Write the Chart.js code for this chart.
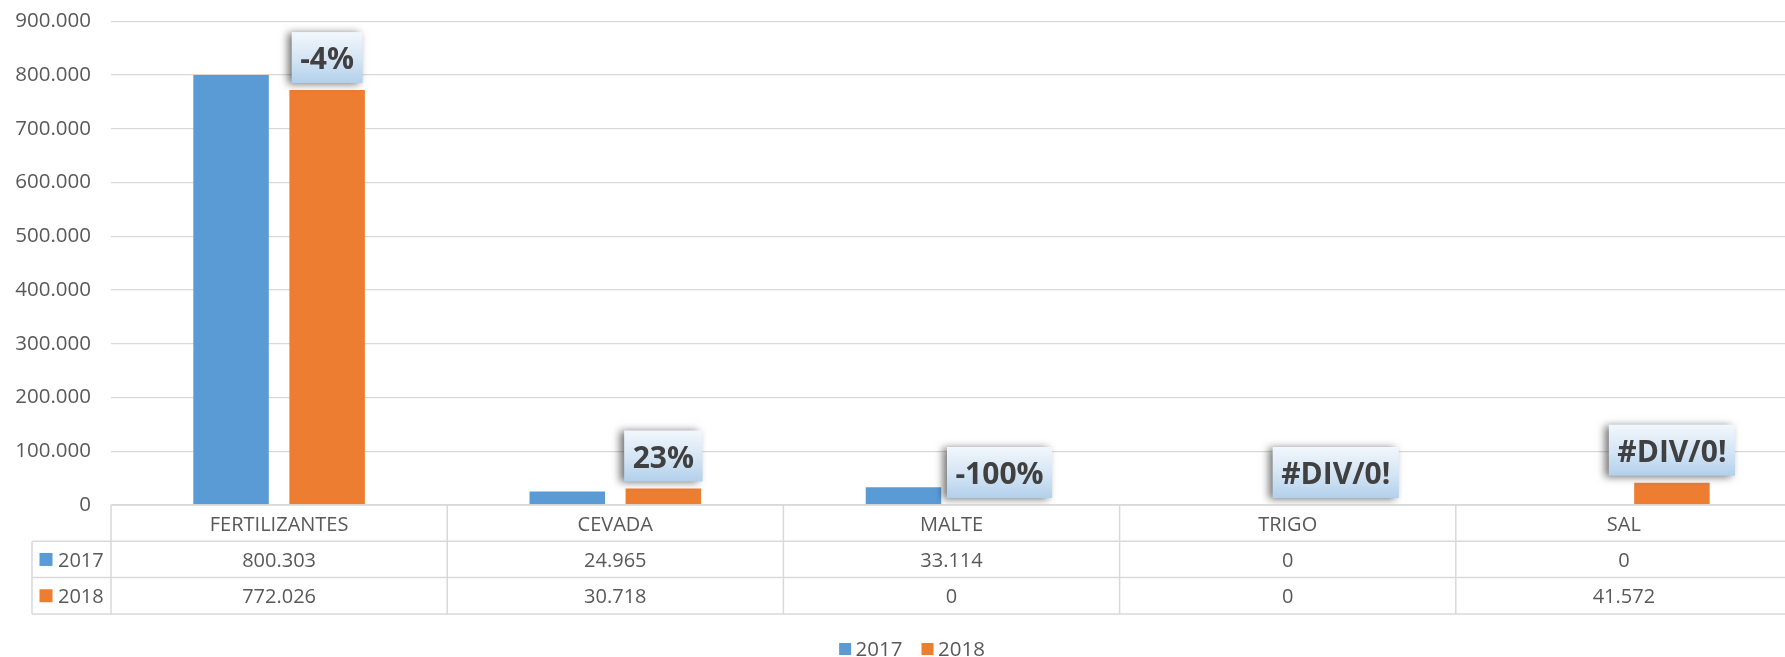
<!DOCTYPE html>
<html><head><meta charset="utf-8">
<script src="https://cdn.jsdelivr.net/npm/chart.js@4.4.1/dist/chart.umd.min.js"></script>
<style>html,body{margin:0;padding:0;background:#fff;overflow:hidden}#wrap{width:1785px;height:657px;position:relative;overflow:hidden}canvas{display:block}</style>
</head><body><div id="wrap"><canvas id="c" width="1792" height="657"></canvas></div>
<script>
const categories = ['FERTILIZANTES', 'CEVADA', 'MALTE', 'TRIGO', 'SAL'];
const seriesNames = ['2017', '2018'];
const values2017 = [800303, 24965, 33114, 0, 0];
const values2018 = [772026, 30718, 0, 0, 41572];
const changeLabels = ['-4%', '23%', '-100%', '#DIV/0!', '#DIV/0!'];
const yMin = 0, yMax = 900000, yStep = 100000;

const BLUE = '#5B9BD5', ORANGE = '#ED7D31', TXT = '#595959', GRID = '#d9d9d9';
const FONT = '"Open Sans", "Noto Sans", sans-serif';

function fmt(n) { return String(Math.round(n)).replace(/\B(?=(\d{3})+(?!\d))/g, '.'); }

const changeLabelPlugin = {
  id: 'changeLabels',
  afterDatasetsDraw(chart) {
    const ctx = chart.ctx;
    const meta = chart.getDatasetMeta(1);
    ctx.save();
    ctx.font = 'bold 30px ' + FONT;
    meta.data.forEach((el, i) => {
      const txt = changeLabels[i];
      const w = ctx.measureText(txt).width;
      const bw = w + 17, bh = 51;
      const bx = el.x - bw / 2;
      const by = el.y - 7 - bh;
      ctx.save();
      ctx.shadowColor = 'rgba(0,0,0,0.55)';
      ctx.shadowBlur = 8;
      ctx.shadowOffsetX = -4;
      ctx.shadowOffsetY = 1;
      const g = ctx.createLinearGradient(0, by, 0, by + bh);
      g.addColorStop(0, '#f2f7fc');
      g.addColorStop(0.55, '#d3e4f4');
      g.addColorStop(1, '#b2d0eb');
      ctx.fillStyle = g;
      ctx.fillRect(bx, by, bw, bh);
      ctx.restore();
      ctx.fillStyle = '#404040';
      ctx.textAlign = 'center';
      ctx.textBaseline = 'alphabetic';
      const cy = by + bh / 2 + 1;
      ctx.fillText(txt, el.x, cy + 0.357 * 30);
    });
    ctx.restore();
  }
};

const tablePlugin = {
  id: 'dataTable',
  afterDraw(chart) {
    const ctx = chart.ctx, ca = chart.chartArea, xs = chart.scales.x;
    const n = categories.length;
    const cw = (ca.right - ca.left) / n;
    const rowH = 36.3;
    const t0 = ca.bottom, r1 = t0 + rowH, r2 = t0 + 2 * rowH, r3 = t0 + 3 * rowH;
    const leftCol = ca.left - 79;
    ctx.save();
    ctx.strokeStyle = GRID;
    ctx.lineWidth = 1.5;
    const line = (x1, y1, x2, y2) => { ctx.beginPath(); ctx.moveTo(x1, y1); ctx.lineTo(x2, y2); ctx.stroke(); };
    line(ca.left, t0, ca.right, t0);
    line(leftCol, r1, ca.right, r1);
    line(leftCol, r2, ca.right, r2);
    line(leftCol, r3, ca.right, r3);
    line(leftCol, r1, leftCol, r3);
    for (let i = 0; i <= n; i++) { const x = ca.left + i * cw; line(x, t0, x, r3); }
    ctx.fillStyle = TXT;
    ctx.font = '20px ' + FONT;
    ctx.textAlign = 'center';
    ctx.textBaseline = 'alphabetic';
    const base = (a, b) => (a + b) / 2 + 0.5 + 0.357 * 20;
    categories.forEach((c, i) => {
      const cx = xs.getPixelForValue(i);
      ctx.fillText(c, cx, base(t0, r1));
      ctx.fillText(fmt(values2017[i]), cx, base(r1, r2));
      ctx.fillText(fmt(values2018[i]), cx, base(r2, r3));
    });
    ctx.textAlign = 'left';
    [[BLUE, seriesNames[0], r1, r2], [ORANGE, seriesNames[1], r2, r3]].forEach(([col, name, a, b]) => {
      const cy = (a + b) / 2;
      ctx.fillStyle = col;
      ctx.fillRect(leftCol + 7.5, cy - 6.5, 13, 13);
      ctx.fillStyle = TXT;
      ctx.fillText(name, leftCol + 26, base(a, b));
    });
    ctx.font = '20.5px ' + FONT;
    const w1 = ctx.measureText(seriesNames[0]).width, w2 = ctx.measureText(seriesNames[1]).width;
    const sq = 12, g1 = 4.5, g2 = 19;
    const total = sq + g1 + w1 + g2 + sq + g1 + w2;
    let x = (leftCol + ca.right) / 2 - total / 2;
    const ly = 649;
    ctx.fillStyle = BLUE; ctx.fillRect(x, ly - 6, sq, sq); x += sq + g1;
    ctx.fillStyle = TXT; ctx.fillText(seriesNames[0], x, ly + 0.357 * 20.5); x += w1 + g2;
    ctx.fillStyle = ORANGE; ctx.fillRect(x, ly - 6, sq, sq); x += sq + g1;
    ctx.fillStyle = TXT; ctx.fillText(seriesNames[1], x, ly + 0.357 * 20.5);
    ctx.restore();
  }
};

new Chart(document.getElementById('c'), {
  type: 'bar',
  data: {
    labels: categories,
    datasets: [
      { label: seriesNames[0], data: values2017, backgroundColor: BLUE, borderWidth: 0 },
      { label: seriesNames[1], data: values2018, backgroundColor: ORANGE, borderWidth: 0 }
    ]
  },
  options: {
    responsive: false,
    animation: false,
    devicePixelRatio: 1,
    layout: { padding: { top: 21.3, left: 0, right: 0, bottom: 152 } },
    datasets: { bar: { categoryPercentage: 0.5714, barPercentage: 0.786 } },
    plugins: { legend: { display: false }, tooltip: { enabled: false } },
    scales: {
      x: { display: false, offset: true, grid: { display: false } },
      y: {
        min: yMin, max: yMax,
        border: { display: false },
        grid: { color: GRID, lineWidth: 1.3, drawTicks: false },
        ticks: { stepSize: yStep, padding: 20, color: TXT, font: { family: FONT, size: 20.5 },
          callback: v => fmt(v) },
        afterFit(scale) { scale.width = 111; scale.paddingTop = 0; scale.paddingBottom = 0; }
      }
    }
  },
  plugins: [changeLabelPlugin, tablePlugin]
});
</script>
</body></html>
